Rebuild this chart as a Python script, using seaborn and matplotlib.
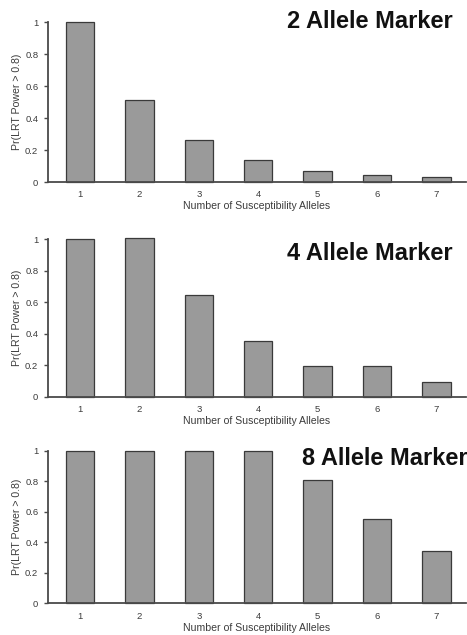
import matplotlib
matplotlib.use("Agg")
import matplotlib.pyplot as plt
import pandas as pd
import seaborn as sns

# Number of susceptibility alleles on the x axis
alleles = [1, 2, 3, 4, 5, 6, 7]

# Pr(LRT power > 0.8) for each marker type
power_2_allele = [1.00, 0.51, 0.26, 0.14, 0.07, 0.045, 0.03]
power_4_allele = [1.00, 1.01, 0.645, 0.357, 0.197, 0.197, 0.095]
power_8_allele = [1.00, 1.00, 1.00, 0.995, 0.807, 0.55, 0.342]

panel_titles = ["2 Allele Marker", "4 Allele Marker", "8 Allele Marker"]
x_label = "Number of Susceptibility Alleles"
y_label = "Pr(LRT Power > 0.8)"
y_ticks = [0, 0.2, 0.4, 0.6, 0.8, 1]
y_tick_labels = ["0", "0.2", "0.4", "0.6", "0.8", "1"]

sns.set_theme(style="white")
plt.rcParams["font.family"] = ["Liberation Sans", "DejaVu Sans"]

W, H = 467, 635
fig = plt.figure(figsize=(W / 100, H / 100), dpi=100)
fig.patch.set_facecolor("white")

# panel geometry in pixels: (axis left, axis right, y of value 1, y of value 0, title x, title baseline)
layout = [
    (48, 466, 22.0, 182.0, 287, 28),
    (48, 466, 239.3, 396.7, 287, 260),
    (48, 466, 450.7, 603.3, 302, 465),
]
series = [power_2_allele, power_4_allele, power_8_allele]

axis_col = "#4a4a4a"
text_col = "#3c3c3c"

for (x0, x1, ytop, ybot, tx, ty), vals, title in zip(layout, series, panel_titles):
    ax = fig.add_axes([x0 / W, 1 - ybot / H, (x1 - x0) / W, (ybot - ytop) / H])
    df = pd.DataFrame({"alleles": alleles, "power": vals})
    sns.barplot(data=df, x="alleles", y="power", ax=ax, color="#9a9a9a",
                saturation=1, width=0.48, edgecolor="#3a3a3a", linewidth=0.9)
    for p in ax.patches:
        p.set_clip_on(False)
    ax.set_xlim(-0.54, 6.5)
    ax.set_ylim(0, 1)
    ax.set_yticks(y_ticks)
    ax.set_yticklabels(y_tick_labels)
    ax.set_facecolor("white")
    for s in ["top", "right"]:
        ax.spines[s].set_visible(False)
    for s in ["left", "bottom"]:
        ax.spines[s].set_color(axis_col)
        ax.spines[s].set_linewidth(1.3)
    ax.tick_params(axis="y", which="both", left=True, length=3, width=1.0,
                   color=axis_col, labelsize=6.8, labelcolor=text_col, pad=4)
    ax.tick_params(axis="x", which="both", bottom=False, labelsize=6.8,
                   labelcolor=text_col, pad=0)
    ax.set_xlabel(x_label, fontsize=7.6, color=text_col, labelpad=1.5)
    ax.set_ylabel(y_label, fontsize=7.6, color=text_col)
    ax.yaxis.set_label_coords(-0.062, 0.5)
    fig.text(tx / W, 1 - ty / H, title, fontsize=17, fontweight="bold",
             color="#111111", ha="left", va="baseline")

fig.savefig("out.png", dpi=100, facecolor="white")
